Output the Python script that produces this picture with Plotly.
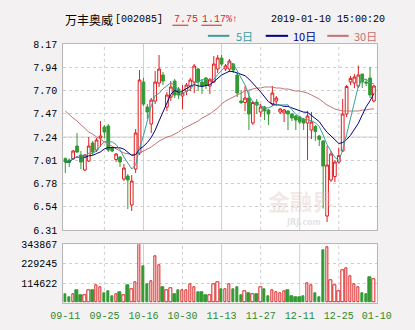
import plotly.graph_objects as go
import pandas as pd

# ---------------- data ----------------
opens = [7.025, 7.01, 7.02, 7.15, 7.06, 6.91, 7.00, 7.18, 7.11, 7.23,
         7.34, 7.35, 7.13, 7.015, 7.04, 6.82, 6.85, 6.56, 6.92, 7.08,
         7.79, 7.54, 7.37, 7.60, 7.78, 7.86, 7.54, 7.64, 7.80, 7.72,
         7.65, 7.70, 7.75, 7.79, 7.92, 7.79, 7.83, 7.75, 7.79, 7.92,
         8.03, 7.92, 7.92, 7.97, 7.86, 7.60, 7.585, 7.63, 7.38, 7.59,
         7.49, 7.54, 7.51, 7.57, 7.60, 7.49, 7.48, 7.50, 7.47, 7.45,
         7.44, 7.42, 7.38, 7.31, 7.345, 7.25, 7.20, 6.45, 6.81, 6.845,
         6.99, 7.10, 7.47, 7.79, 7.78, 7.75, 7.87, 7.79, 7.83, 7.60]
highs = [7.035, 7.025, 7.11, 7.28, 7.10, 7.07, 7.24, 7.20, 7.23, 7.40,
         7.36, 7.37, 7.14, 7.08, 7.05, 6.97, 6.87, 6.86, 7.32, 7.91,
         7.83, 7.57, 7.63, 7.90, 8.06, 7.89, 7.69, 7.80, 7.82, 7.74,
         7.76, 7.78, 7.83, 7.97, 7.93, 7.82, 7.84, 7.83, 8.05, 8.06,
         8.06, 7.97, 8.02, 7.98, 7.88, 7.71, 7.75, 7.70, 7.60, 7.62,
         7.57, 7.55, 7.52, 7.75, 7.65, 7.53, 7.52, 7.51, 7.48, 7.46,
         7.45, 7.43, 7.50, 7.49, 7.36, 7.26, 7.21, 7.15, 7.10, 7.006,
         7.135, 7.62, 7.76, 7.85, 7.87, 7.955, 7.87, 7.82, 7.94, 7.76]
lows = [6.88, 6.94, 7.01, 7.08, 6.92, 6.90, 6.99, 7.06, 7.09, 7.14,
        7.23, 7.09, 7.09, 6.99, 6.94, 6.80, 6.52, 6.50, 6.88, 7.06,
        7.55, 7.42, 7.28, 7.57, 7.74, 7.76, 7.50, 7.60, 7.63, 7.62,
        7.52, 7.66, 7.70, 7.68, 7.70, 7.67, 7.72, 7.67, 7.78, 7.88,
        7.95, 7.90, 7.89, 7.88, 7.64, 7.57, 7.50, 7.31, 7.36, 7.47,
        7.44, 7.41, 7.36, 7.55, 7.55, 7.47, 7.39, 7.31, 7.40, 7.31,
        7.37, 7.31, 7.01, 7.22, 7.20, 7.15, 6.525, 6.39, 6.79, 6.79,
        6.974, 7.09, 7.44, 7.76, 7.73, 7.73, 7.73, 7.75, 7.63, 7.585]
closes = [6.99, 6.985, 7.10, 7.09, 6.99, 7.06, 7.15, 7.09, 7.21, 7.25,
          7.29, 7.11, 7.10, 7.07, 6.99, 6.93, 6.81, 6.80, 7.28, 7.81,
          7.57, 7.49, 7.61, 7.79, 7.92, 7.80, 7.66, 7.74, 7.66, 7.66,
          7.68, 7.76, 7.81, 7.95, 7.79, 7.75, 7.76, 7.81, 7.97, 8.03,
          7.97, 7.95, 8.00, 7.91, 7.68, 7.585, 7.63, 7.47, 7.585, 7.56,
          7.54, 7.50, 7.47, 7.68, 7.63, 7.52, 7.51, 7.47, 7.43, 7.41,
          7.39, 7.38, 7.45, 7.39, 7.295, 7.215, 6.95, 6.96, 7.07, 6.99,
          7.054, 7.47, 7.745, 7.826, 7.84, 7.86, 7.79, 7.78, 7.66, 7.75]
volumes = [52000, 35000, 52000, 73000, 47000, 43000, 76000, 73000, 104000, 90000,
           56000, 70000, 36000, 52000, 60000, 45000, 104000, 80000, 123000, 343867,
           212000, 110000, 128000, 275000, 221000, 93000, 74000, 85000, 51000, 74000,
           74000, 74000, 108000, 94000, 60000, 60000, 45000, 45000, 111000, 123000,
           79000, 79000, 111000, 79000, 93000, 45000, 66000, 55000, 51000, 51000,
           89000, 79000, 36000, 74000, 60000, 57000, 67000, 76000, 38000, 32000,
           32000, 38000, 115000, 105000, 58000, 35000, 310000, 329000, 130000, 100000,
           70000, 192000, 203000, 156000, 106000, 89000, 54000, 52000, 149000, 138000]
ma30 = [7.50, 7.46, 7.43, 7.40, 7.36, 7.32, 7.29, 7.27, 7.24, 7.22,
        7.19, 7.17, 7.145, 7.12, 7.10, 7.08, 7.07, 7.065, 7.07, 7.08,
        7.10, 7.12, 7.14, 7.17, 7.20, 7.22, 7.24, 7.25, 7.27, 7.29,
        7.32, 7.34, 7.36, 7.38, 7.40, 7.43, 7.45, 7.47, 7.50, 7.53,
        7.57, 7.60, 7.62, 7.64, 7.66, 7.68, 7.70, 7.71, 7.72, 7.73,
        7.73, 7.74, 7.74, 7.74, 7.73, 7.73, 7.72, 7.72, 7.71, 7.70,
        7.70, 7.69, 7.68, 7.66, 7.64, 7.62, 7.59, 7.56, 7.54, 7.52,
        7.51, 7.50, 7.50, 7.50, 7.50, 7.50, 7.51, 7.51, 7.52, 7.52]
x_labels = ["09-11", "09-25", "10-16", "10-30", "11-13", "11-27", "12-11", "12-25", "01-10"]
price_labels = ["6.31", "6.54", "6.78", "7.01", "7.24", "7.47", "7.70", "7.94", "8.17"]
vol_labels = ["114622", "229245", "343867"]
stock_name = "万丰奥威"
stock_code = "[002085]"
last_price = "7.75"
change_pct = "1.17%"
timestamp = "2019-01-10 15:00:20"
legend_names = ["5日", "10日", "30日"]

# ---------------- derived ----------------
n = len(closes)
idx = list(range(n))
s = pd.Series(closes)
ma5 = s.rolling(5, min_periods=1).mean()
ma10 = s.rolling(10, min_periods=1).mean()

RED = "#dd1f1f"
GREEN = "#339933"
C5 = "#3a9e9e"
C10 = "#000080"
C30 = "#c47272"
GRID = "#cfcfcf"
BORDER = "#b8b8b8"
BG = "#f3f1f1"
MONO = "Liberation Mono, DejaVu Sans Mono, monospace"
CJK = "Noto Sans CJK SC, sans-serif"

W, H = 415, 330
def px(x):
    return x / W
def py(y):
    return 1 - y / H

xr = [-0.5, n - 0.3]
pmin, pmax = float(price_labels[0]), float(price_labels[-1])
vmax = float(vol_labels[-1])
price_ticks = [pmin + k * (pmax - pmin) / (len(price_labels) - 1) for k in range(len(price_labels))]
vol_ticks = [float(v) for v in vol_labels]
x_ticks = [0] + [10 * k for k in range(1, len(x_labels) - 1)] + [xr[1]]

up = [c >= o for o, c in zip(opens, closes)]

fig = go.Figure()

fig.add_trace(go.Candlestick(
    x=idx, open=opens, high=highs, low=lows, close=closes,
    increasing=dict(line=dict(color=RED, width=1), fillcolor="white"),
    decreasing=dict(line=dict(color=GREEN, width=1), fillcolor=GREEN),
    whiskerwidth=0, hoverinfo="skip", showlegend=False,
    xaxis="x", yaxis="y"))

for vals, col in [(ma30, C30), (list(ma10), C10), (list(ma5), C5)]:
    fig.add_trace(go.Scatter(x=idx, y=vals, mode="lines",
                             line=dict(color=col, width=1),
                             hoverinfo="skip", showlegend=False,
                             xaxis="x", yaxis="y"))

fig.add_trace(go.Bar(
    x=idx, y=volumes, width=0.62,
    marker=dict(color=["white" if u else GREEN for u in up],
                line=dict(color=[RED if u else GREEN for u in up], width=1)),
    hoverinfo="skip", showlegend=False, xaxis="x2", yaxis="y2"))

xdom = [px(54), px(390)]
common_x = dict(domain=xdom, range=xr, showgrid=False, zeroline=False,
                showline=True, mirror=True, linecolor=BORDER, linewidth=1,
                fixedrange=True)
fig.update_layout(
    width=W, height=H,
    margin=dict(l=0, r=0, t=0, b=0),
    paper_bgcolor=BG, plot_bgcolor="white",
    boxgap=0.3, boxgroupgap=0, bargap=0,
    showlegend=False,
    xaxis=dict(**common_x, anchor="y", showticklabels=False, ticks="",
               rangeslider=dict(visible=False)),
    yaxis=dict(domain=[py(233.5), py(40.5)], range=[pmin, pmax],
               tickvals=price_ticks, ticktext=price_labels,
               tickfont=dict(family=MONO, size=10, color="#000000"),
               showgrid=True, gridcolor=GRID, griddash="3px,3px", gridwidth=1,
               zeroline=False, showline=True, mirror=True, linecolor=BORDER,
               ticks="", ticklabelstandoff=3, anchor="x"),
    xaxis2=dict(**common_x, anchor="y2", tickvals=x_ticks, ticktext=x_labels,
                tickfont=dict(family=MONO, size=10, color="#2e8b2e"), ticks="",
                ticklabelstandoff=3),
    yaxis2=dict(domain=[py(309), py(248.3)], range=[0, vmax],
                tickvals=vol_ticks, ticktext=vol_labels,
                tickfont=dict(family=MONO, size=10, color="#000000"),
                showgrid=True, gridcolor=GRID, griddash="3px,3px", gridwidth=1,
                zeroline=False, showline=True, mirror=True, linecolor=BORDER,
                ticks="", ticklabelstandoff=3, anchor="x2"),
)

shapes = []
for k in range(1, len(x_labels) - 1):
    g = 10 * k
    dash = "solid" if k % 2 == 0 else "3px,3px"
    for xa, ya in [("x", "y domain"), ("x2", "y2 domain")]:
        shapes.append(dict(type="line", xref=xa, yref=ya, x0=g, x1=g, y0=0, y1=1,
                           line=dict(color=GRID, width=1, dash=dash), layer="below"))
mid = price_ticks[len(price_ticks) // 2]
shapes.append(dict(type="line", xref="x domain", yref="y", x0=0, x1=1, y0=mid, y1=mid,
                   line=dict(color=GRID, width=1), layer="below"))

# legend lines
leg = [(209, 232, 237, C5), (271, 295, 298, C10), (337, 360, 364, C30)]
annotations = []
for (a, b, t, col), name in zip(leg, legend_names):
    shapes.append(dict(type="line", xref="paper", yref="paper", x0=px(a), x1=px(b),
                       y0=py(32), y1=py(32), line=dict(color=col, width=2)))
    annotations.append(dict(x=px(t), y=py(32), xref="paper", yref="paper", text=name,
                            showarrow=False, xanchor="left", yanchor="middle",
                            font=dict(family=CJK, size=11, color=col)))

# header
annotations += [
    dict(x=px(54), y=py(15), text=stock_name, font=dict(family=CJK, size=12, color="#000")),
    dict(x=px(107), y=py(15), text=stock_code, font=dict(family=MONO, size=10, color="#000")),
    dict(x=px(170), y=py(15), text=last_price, font=dict(family=MONO, size=10, color=RED)),
    dict(x=px(201), y=py(15), text=change_pct + "↑", font=dict(family=MONO, size=10, color=RED)),
    dict(x=px(275), y=py(15), text=timestamp, font=dict(family=MONO, size=10, color="#000")),
]
for a in annotations[-5:]:
    a.update(xref="paper", yref="paper", showarrow=False, xanchor="left", yanchor="middle")
shapes.append(dict(type="line", xref="paper", yref="paper", x0=px(171), x1=px(188),
                   y0=py(21), y1=py(21), line=dict(color=RED, width=1)))
shapes.append(dict(type="line", xref="paper", yref="paper", x0=px(202), x1=px(224),
                   y0=py(21), y1=py(21), line=dict(color=RED, width=1)))

# faint watermark
annotations.append(dict(x=px(346), y=py(202), xref="paper", yref="paper", text="<b>金融界</b>",
                        showarrow=False, yanchor="middle",
                        font=dict(family=CJK, size=22, color="rgba(220,190,190,0.35)")))
annotations.append(dict(x=px(332), y=py(226), xref="paper", yref="paper", text="<b>JRJ.com</b>",
                        showarrow=False, yanchor="middle",
                        font=dict(family="DejaVu Sans", size=8, color="rgba(200,200,200,0.5)")))

fig.update_layout(shapes=shapes, annotations=annotations)
fig.write_html("out.html")
